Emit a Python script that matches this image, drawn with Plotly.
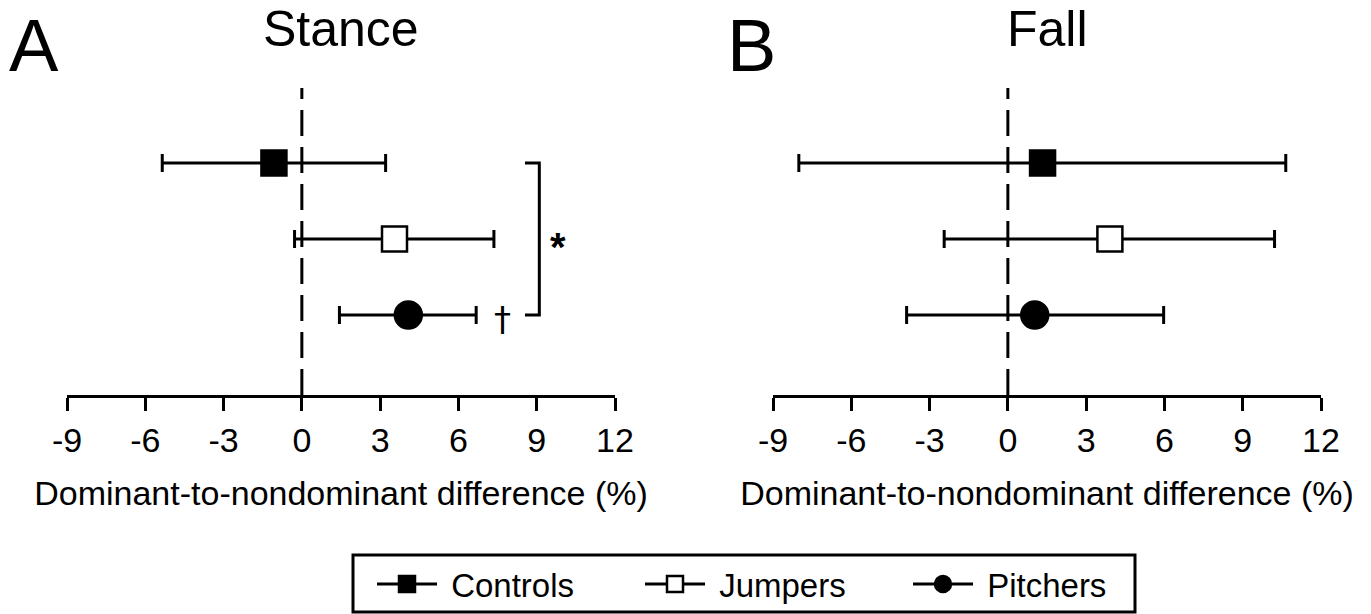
import plotly.graph_objects as go

groups = ["Controls", "Jumpers", "Pitchers"]
rows = [3, 2, 1]
stance_mean = [-1.07, 3.55, 4.08]
stance_low = [-5.35, -0.28, 1.44]
stance_high = [3.21, 7.36, 6.68]
fall_mean = [1.33, 3.91, 1.03]
fall_low = [-8.01, -2.44, -3.88]
fall_high = [10.65, 10.22, 5.97]
tick_vals = [-9, -6, -3, 0, 3, 6, 9, 12]
tick_text = ["-9", "-6", "-3", "0", "3", "6", "9", "12"]
panel_titles = ["Stance", "Fall"]
panel_letters = ["A", "B"]
axis_title = "Dominant-to-nondominant difference (%)"

FONT = "Liberation Sans, Arial, Helvetica, sans-serif"
symbols = ["square", "square", "circle"]
fills = ["black", "white", "black"]
sizes = [25, 25, 27]

W, H = 1371, 614
fig = go.Figure()

panels = [(stance_mean, stance_low, stance_high, "x", "y"),
          (fall_mean, fall_low, fall_high, "x2", "y2")]
for p, (mean, low, high, xa, ya) in enumerate(panels):
    for i, g in enumerate(groups):
        fig.add_trace(go.Scatter(
            x=[mean[i]], y=[rows[i]], xaxis=xa, yaxis=ya,
            mode="lines+markers", name="\u00a0" + g, showlegend=(p == 0),
            line=dict(color="black", width=3),
            marker=dict(symbol=symbols[i], size=sizes[i], color=fills[i],
                        line=dict(color="black", width=2.5)),
            error_x=dict(type="data", symmetric=False,
                         array=[high[i] - mean[i]],
                         arrayminus=[mean[i] - low[i]],
                         color="black", thickness=3, width=9),
        ))

xdom = [[67 / W, 615 / W], [773 / W, 1321 / W]]
ydom = [1 - 395 / H, 1 - 88 / H]
yr = [-0.053, 3.987]

axis_common = dict(range=[-9, 12], tickvals=tick_vals, ticktext=tick_text,
                   showline=True, linecolor="black", linewidth=3,
                   ticks="outside", ticklen=13, tickwidth=3, tickcolor="black",
                   tickfont=dict(family=FONT, size=34, color="black"),
                   showgrid=False, zeroline=False, fixedrange=True, automargin=False,
                   title=dict(text=axis_title, standoff=24,
                              font=dict(family=FONT, size=34, color="black")))
fig.update_layout(
    xaxis=dict(domain=xdom[0], anchor="y", **axis_common),
    xaxis2=dict(domain=xdom[1], anchor="y2", **axis_common),
    yaxis=dict(domain=ydom, range=yr, visible=False, anchor="x"),
    yaxis2=dict(domain=ydom, range=yr, visible=False, anchor="x2"),
)

# zero reference dashed lines
for xa, ya in [("x", "y"), ("x2", "y2")]:
    fig.add_shape(type="line", xref=xa, yref=ya + " domain", x0=0, x1=0, y0=0, y1=1,
                  line=dict(color="black", width=3, dash="26px,11px"), layer="below")

# significance bracket in panel A
fig.add_shape(type="path", xref="x", yref="y",
              path="M 8.55,3 L 9.1,3 L 9.1,1 L 8.55,1",
              line=dict(color="black", width=3))
fig.add_annotation(x=9.8, y=1.9, xref="x", yref="y", text="<b>*</b>", showarrow=False,
                   font=dict(family=FONT, size=40, color="black"))
fig.add_annotation(x=7.7, y=0.95, xref="x", yref="y", text="†", showarrow=False,
                   font=dict(family="DejaVu Sans, Liberation Sans, sans-serif", size=34, color="#000000"))

# panel titles and letters
for p in range(2):
    cx = (xdom[p][0] + xdom[p][1]) / 2
    fig.add_annotation(x=cx, y=1 - 29 / H, xref="paper", yref="paper",
                       text=panel_titles[p], showarrow=False,
                       yanchor="middle", xanchor="center",
                       font=dict(family=FONT, size=50, color="black"))
lx = [33.5 / W, 751 / W]
for p in range(2):
    fig.add_annotation(x=lx[p], y=1 - 45 / H, xref="paper", yref="paper",
                       text=panel_letters[p], showarrow=False,
                       yanchor="middle", xanchor="center",
                       font=dict(family=FONT, size=74, color="black"))

# legend frame
fig.add_shape(type="rect", xref="paper", yref="paper",
              x0=353 / W, x1=1135 / W, y0=1 - 612 / H, y1=1 - 555 / H,
              line=dict(color="black", width=3), fillcolor="rgba(0,0,0,0)")

fig.update_layout(
    width=W, height=H,
    margin=dict(l=0, r=0, t=0, b=0, autoexpand=False),
    paper_bgcolor="white", plot_bgcolor="white",
    showlegend=True,
    legend=dict(orientation="h", x=372 / W, xanchor="left",
                y=1 - 556 / H, yanchor="top",
                borderwidth=0, bgcolor="rgba(0,0,0,0)",
                font=dict(family=FONT, size=33, color="black"),
                itemsizing="trace", itemwidth=60, entrywidth=193, entrywidthmode="pixels",
                tracegroupgap=0, itemclick=False, itemdoubleclick=False),
)

fig.write_html("out.html", config={"displayModeBar": False},
               post_script="document.body.style.margin='0';document.body.style.overflow='hidden';")
